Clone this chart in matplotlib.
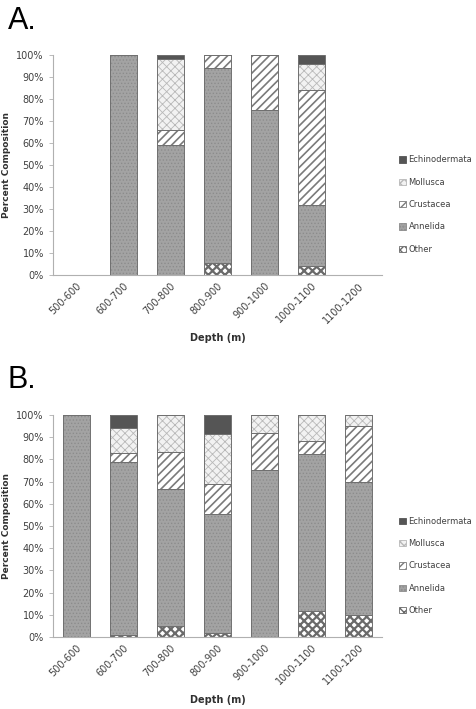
import matplotlib
matplotlib.use("Agg")
import numpy as np
from matplotlib import pyplot as plt
from matplotlib.patches import Patch
from matplotlib.ticker import PercentFormatter

depths = ['500-600', '600-700', '700-800', '800-900', '900-1000', '1000-1100', '1100-1200']
groups = ['Other', 'Annelida', 'Crustacea', 'Mollusca', 'Echinodermata']

# panel A (percent composition)
a_other = [0, 0, 0, 5.5, 0, 4, 0]
a_annelida = [0, 100, 59, 88.5, 75, 28, 0]
a_crustacea = [0, 0, 7, 6, 25, 52, 0]
a_mollusca = [0, 0, 32, 0, 0, 12, 0]
a_echino = [0, 0, 2, 0, 0, 4, 0]

# panel B
b_other = [0, 1, 5, 2, 0, 11.5, 9.7]
b_annelida = [100, 77.7, 61.7, 53.5, 75, 71, 60]
b_crustacea = [0, 4.3, 16.7, 13.4, 17, 6, 25.5]
b_mollusca = [0, 11.3, 16.6, 22.4, 8, 11.5, 4.8]
b_echino = [0, 5.7, 0, 8.7, 0, 0, 0]

# fill, hatch colour, hatch, hatch width
styles = {
    'Other': ('#ffffff', '#6a6a6a', 'xxxx', 1.6),
    'Annelida': ('#a3a3a3', '#8c8c8c', '.....', 0.6),
    'Crustacea': ('#ffffff', '#7a7a7a', '////', 1.2),
    'Mollusca': ('#f2f2f2', '#b8b8b8', 'xxxx', 0.6),
    'Echinodermata': ('#555555', '#555555', '', 0.6),
}


def draw_panel(ax, series, letter):
    x = np.arange(len(depths))
    bottom = np.zeros(len(depths))
    for name, vals in zip(groups, series):
        vals = np.array(vals, dtype=float)
        fc, hc, hatch, hw = styles[name]
        with plt.rc_context({'hatch.linewidth': hw}):
            ax.bar(x, vals, 0.575, bottom=bottom, color=fc, edgecolor=hc,
                   hatch=hatch, linewidth=0)
        ax.bar(x, vals, 0.575, bottom=bottom, fill=False, edgecolor='#707070',
               linewidth=0.7)
        bottom += vals
    ax.set_xlim(-0.5, len(depths) - 0.5)
    ax.set_ylim(0, 100)
    ax.set_yticks(range(0, 101, 10))
    ax.yaxis.set_major_formatter(PercentFormatter(decimals=0))
    ax.set_xticks(x)
    ax.set_xticklabels(depths, rotation=45, ha='right', rotation_mode='anchor')
    for s in ['top', 'right']:
        ax.spines[s].set_visible(False)
    for s in ['left', 'bottom']:
        ax.spines[s].set_color('#b0b0b0')
    ax.tick_params(axis='y', labelsize=7, colors='#b0b0b0', labelcolor='#404040',
                   length=3, width=0.6)
    ax.tick_params(axis='x', labelsize=7, labelcolor='#404040', length=0, pad=4)
    ax.set_ylabel('Percent Composition', fontsize=6.5, fontweight='bold',
                  color='#303030', labelpad=4)
    ax.set_xlabel('Depth (m)', fontsize=7, fontweight='bold', color='#303030',
                  labelpad=6)
    ax.text(-0.137, 1.12, letter, transform=ax.transAxes, fontsize=22,
            family='Liberation Sans', va='baseline', ha='left')


fig = plt.figure(figsize=(4.77, 7.09), dpi=100)
ax1 = fig.add_axes([0.111, 0.612, 0.69, 0.3105])
ax2 = fig.add_axes([0.111, 0.1016, 0.69, 0.3131])
draw_panel(ax1, [a_other, a_annelida, a_crustacea, a_mollusca, a_echino], 'A.')
draw_panel(ax2, [b_other, b_annelida, b_crustacea, b_mollusca, b_echino], 'B.')

handles = []
for name in groups[::-1]:
    fc, hc, hatch, hw = styles[name]
    handles.append(Patch(facecolor=fc, edgecolor=hc, hatch=hatch, linewidth=0.6))
for ax in (ax1, ax2):
    leg = ax.legend(handles, groups[::-1], loc='center left', bbox_to_anchor=(1.03, 0.32),
                    frameon=False, fontsize=6, handlelength=0.8, handleheight=0.8,
                    handletextpad=0.3, labelspacing=1.6, borderaxespad=0.5)
    for t in leg.get_texts():
        t.set_color('#404040')

fig.savefig('out.png', dpi=100)
